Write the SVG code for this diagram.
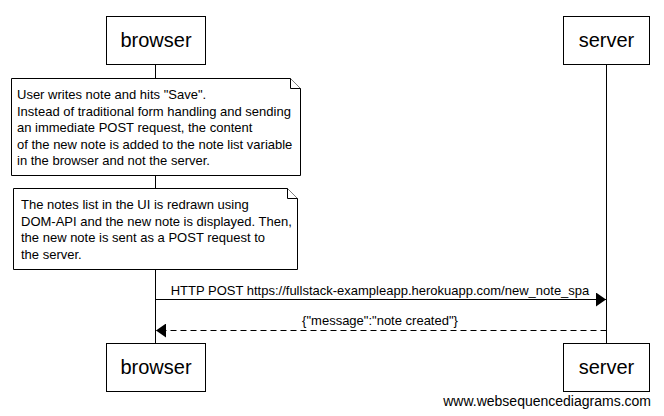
<svg xmlns="http://www.w3.org/2000/svg" width="664" height="416" viewBox="0 0 664 416">
<defs>
<style>
.box{fill:#fff;stroke:#000;stroke-width:1}
.life{stroke:#000;stroke-width:1}
.actor{font-family:"Liberation Sans",Arial,sans-serif;font-size:20px;fill:#000;text-anchor:middle}
.note{fill:#fff;stroke:#000;stroke-width:1}
.nt{font-family:"Liberation Sans",Arial,sans-serif;font-size:13px;fill:#000}
.msg{font-family:"Liberation Sans",Arial,sans-serif;font-size:13px;fill:#000;text-anchor:middle}
.wm{font-family:"Liberation Sans",Arial,sans-serif;font-size:14px;fill:#000;text-anchor:end}
</style>
<marker id="ah" viewBox="0 0 10 14" refX="10" refY="7" markerWidth="10" markerHeight="14" markerUnits="userSpaceOnUse" orient="auto">
<path d="M0,0 L10,7 L0,14 Z" fill="#000"/>
</marker>
</defs>
<rect width="664" height="416" fill="#fff"/>
<g id="lifelines">
<line class="life" x1="155.5" y1="64" x2="155.5" y2="343"/>
<line class="life" x1="606.5" y1="64" x2="606.5" y2="343"/>
</g>
<g id="browser-top">
<rect class="box" x="106.5" y="16.5" width="99" height="48"/>
<text class="actor" x="156" y="47">browser</text>
</g>
<g id="server-top">
<rect class="box" x="563.5" y="16.5" width="86" height="48"/>
<text class="actor" x="606.5" y="47">server</text>
</g>
<g id="note1">
<path class="note" d="M11.5,78.5 H290.5 L300.5,88.5 V175.5 H11.5 Z"/>
<path class="note" d="M290.5,78.5 V88.5 H300.5" fill="none"/>
<text class="nt" x="17" y="99">User writes note and hits "Save".</text>
<text class="nt" x="17" y="115.5">Instead of traditional form handling and sending</text>
<text class="nt" x="17" y="132">an immediate POST request, the content</text>
<text class="nt" x="17" y="148.5">of the new note is added to the note list variable</text>
<text class="nt" x="17" y="165">in the browser and not the server.</text>
</g>
<g id="note2">
<path class="note" d="M13.5,188.5 H287.5 L297.5,198.5 V269.5 H13.5 Z"/>
<path class="note" d="M287.5,188.5 V198.5 H297.5" fill="none"/>
<text class="nt" x="21" y="209">The notes list in the UI is redrawn using</text>
<text class="nt" x="21" y="225.5">DOM-API and the new note is displayed. Then,</text>
<text class="nt" x="21" y="242">the new note is sent as a POST request to</text>
<text class="nt" x="21" y="258.5">the server.</text>
</g>
<g id="connectors">
<line x1="155.5" y1="299.5" x2="606" y2="299.5" stroke="#000" stroke-width="1" marker-end="url(#ah)"/>
<text class="msg" x="380" y="295">HTTP POST https://fullstack-exampleapp.herokuapp.com/new_note_spa</text>
<line x1="606.5" y1="330.5" x2="156" y2="330.5" stroke="#000" stroke-width="1" stroke-dasharray="6,4" marker-end="url(#ah)"/>
<text class="msg" x="380" y="325">{"message":"note created"}</text>
</g>
<g id="browser-bottom">
<rect class="box" x="106.5" y="343.5" width="99" height="48"/>
<text class="actor" x="156" y="374">browser</text>
</g>
<g id="server-bottom">
<rect class="box" x="563.5" y="343.5" width="86" height="48"/>
<text class="actor" x="606.5" y="374">server</text>
</g>
<text class="wm" x="651" y="406">www.websequencediagrams.com</text>
</svg>
